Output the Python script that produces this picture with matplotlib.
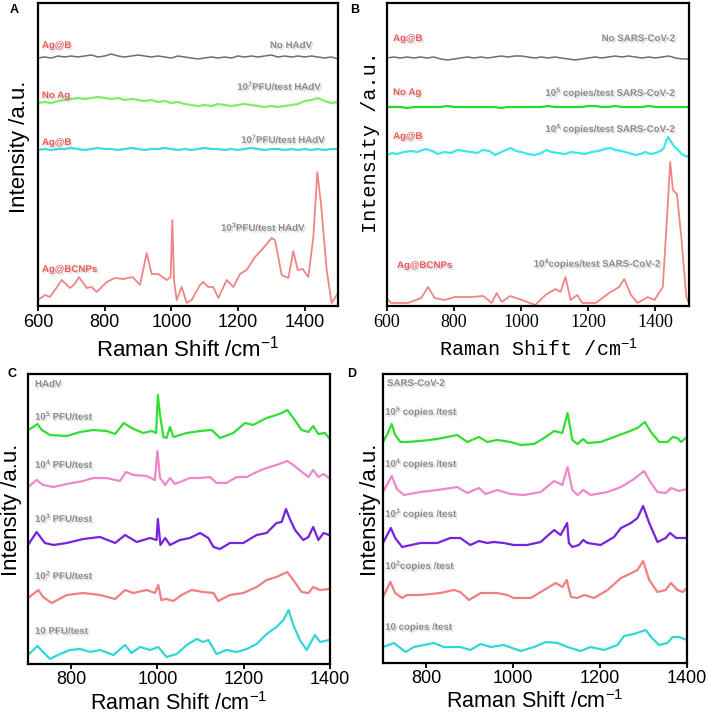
import matplotlib
matplotlib.use("Agg")
import matplotlib.pyplot as plt
import matplotlib.patheffects as pe
import numpy as np

plt.rcParams['mathtext.fontset'] = 'custom'
plt.rcParams['mathtext.rm'] = 'Liberation Sans'
plt.rcParams['mathtext.bf'] = 'Liberation Sans:bold'
plt.rcParams['mathtext.it'] = 'Liberation Sans:italic'

# ---------------- DATA ----------------
x20 = list(range(600, 1501, 20))

# Panel A (HAdV, stacked intensities, a.u.)
a_gray = [248,249,248,250,249,250,249,250,251,249,250,252,250,249,250,251,250,249,250,249,248,250,249,248,247,248,249,248,249,248,250,249,250,249,250,251,249,250,249,250,249,250,249,248,249,247]
a_green = [203,204,203,205,206,207,208,207,208,209,208,207,208,206,207,206,205,206,204,205,203,204,202,201,200,201,200,202,201,200,201,202,201,200,199,200,199,200,201,202,205,206,208,205,203,204]
a_cyan = [156,157,156,157,157,158,157,156,157,158,157,157,156,157,158,157,156,157,157,158,157,156,157,156,157,158,157,157,156,157,156,157,158,157,156,157,157,156,157,156,157,156,157,156,157,157]
a_red_x = [600,621,636,655,671,696,710,723,746,761,776,806,831,856,884,906,926,941,961,986,998,1003,1008,1016,1031,1046,1061,1086,1096,1111,1126,1141,1166,1186,1206,1226,1251,1276,1301,1311,1331,1351,1366,1379,1394,1411,1426,1438,1449,1466,1481,1500]
a_red = [6,11,9,18,26,18,22,29,18,19,14,24,28,27,29,21,53,32,32,26,29,86,26,6,19,3,6,21,24,19,19,8,26,19,32,36,49,58,68,66,31,28,55,36,37,29,69,134,102,36,3,13]

# Panel B (SARS-CoV-2)
b_gray = [248,249,248,249,248,249,248,249,247,246,247,248,249,248,249,248,249,250,249,250,250,249,248,249,248,249,248,247,246,247,248,249,248,249,250,249,250,249,248,249,248,249,250,248,247,247]
b_green = [199,199,199,198,199,199,199,199,199,200,199,199,199,199,199,199,199,198,199,199,199,199,199,199,200,199,199,199,199,199,200,200,199,199,200,199,199,199,199,200,199,199,199,199,199,199]
b_cyan_x = [600,615,630,650,670,690,715,735,752,770,790,810,830,850,870,885,905,922,940,955,968,985,1000,1020,1040,1060,1075,1090,1110,1130,1150,1170,1190,1210,1230,1250,1265,1280,1300,1320,1340,1355,1370,1385,1400,1415,1425,1432,1438,1445,1455,1465,1478,1490,1500]
b_cyan = [151,153,152,154,155,154,157,155,152,154,153,156,155,154,153,156,155,151,154,156,158,155,154,152,151,153,156,154,153,152,154,153,152,154,155,157,158,156,155,153,151,152,154,152,153,155,158,165,169,165,160,157,152,150,149]
b_red_x = [600,612,662,702,722,742,772,802,852,887,912,927,942,967,1002,1042,1072,1102,1117,1132,1147,1167,1182,1222,1262,1292,1307,1327,1347,1377,1397,1422,1437,1444,1452,1464,1477,1492,1500]
b_red = [8,3,3,8,19,8,6,9,9,10,3,13,4,10,6,1,11,17,14,29,6,11,3,3,13,19,27,11,3,9,6,19,103,144,116,112,69,9,3]

# Panel C (HAdV dilution series)
c_x1 = [700,712,722,732,751,790,821,851,882,902,922,940,967,987,997,1001,1006,1014,1021,1029,1037,1068,1099,1126,1145,1176,1203,1222,1253,1276,1288,1301,1315,1334,1350,1361,1373,1388,1398]
c_1e5 = [234,237,240,234,229,228,232,234,233,230,241,236,231,233,231,269,249,227,226,237,227,231,233,234,226,231,241,239,246,249,251,254,246,234,232,238,230,231,226]
c_x2 = [700,720,735,759,790,828,851,882,913,927,944,975,994,1000,1006,1018,1029,1041,1075,1099,1122,1137,1160,1184,1207,1230,1253,1276,1301,1315,1338,1350,1361,1373,1385,1398]
c_1e4 = [177,184,179,177,180,183,186,186,183,192,189,188,184,213,186,179,186,180,186,186,187,181,181,187,187,192,196,199,203,199,191,187,194,187,190,186]
c_x3 = [700,720,739,759,790,828,867,902,925,952,983,998,1001,1007,1018,1029,1052,1075,1099,1118,1130,1145,1168,1199,1230,1253,1276,1288,1298,1307,1319,1338,1350,1361,1373,1385,1398]
c_1e3 = [119,132,121,119,121,125,127,121,129,122,126,124,145,119,126,119,124,126,131,126,117,115,121,121,129,131,141,142,155,145,134,124,127,137,124,131,129]
c_x4 = [700,724,735,755,790,828,867,902,925,944,975,994,1002,1009,1021,1037,1056,1079,1106,1130,1141,1168,1199,1230,1253,1276,1301,1315,1334,1350,1361,1377,1398]
c_1e2 = [66,74,67,61,69,71,69,65,74,71,74,71,79,64,65,63,69,74,72,71,63,69,71,77,84,87,92,84,72,71,77,74,75]
c_x5 = [700,722,735,751,774,797,821,844,867,898,925,940,960,983,1002,1021,1045,1068,1091,1106,1118,1137,1160,1184,1207,1230,1253,1276,1292,1304,1315,1330,1346,1365,1377,1398]
c_1e1 = [9,18,12,5,10,14,15,12,14,9,19,11,17,14,17,7,10,19,25,22,24,10,14,12,15,20,30,37,44,54,39,24,14,29,22,24]

# Panel D (SARS-CoV-2 dilution series)
d_x1 = [700,709,720,728,740,755,786,825,871,894,921,940,963,994,1017,1048,1071,1094,1113,1125,1136,1148,1161,1171,1201,1232,1263,1286,1303,1317,1336,1355,1367,1378,1386,1400]
d_1e5 = [221,228,239,228,221,221,222,224,228,221,226,221,223,221,218,219,225,232,230,250,223,219,224,220,221,226,231,235,241,231,221,221,226,225,221,226]
d_x2 = [700,720,732,748,786,825,871,894,921,936,963,994,1025,1063,1094,1113,1125,1136,1148,1161,1178,1217,1248,1278,1301,1317,1332,1351,1363,1382,1400]
d_1e4 = [171,187,174,168,171,173,176,170,175,169,173,169,168,171,182,178,196,173,168,173,168,171,176,184,192,180,171,170,175,172,174]
d_x3 = [700,718,728,744,786,825,855,878,901,921,940,955,978,1001,1032,1063,1094,1109,1124,1128,1136,1151,1161,1171,1201,1232,1248,1271,1286,1299,1313,1332,1351,1361,1375,1400]
d_1e3 = [120,135,125,116,120,120,125,125,118,122,120,121,120,118,118,121,133,128,140,120,116,118,123,120,118,126,135,140,145,157,140,121,125,130,125,125]
d_x4 = [700,717,728,744,755,786,832,863,878,898,925,963,986,1001,1040,1071,1098,1113,1123,1133,1148,1163,1186,1217,1248,1263,1286,1299,1313,1332,1351,1363,1378,1390,1400]
d_1e2 = [66,81,70,65,68,68,70,73,71,63,70,70,68,65,65,73,80,76,83,66,65,68,65,73,85,88,93,102,83,71,73,80,73,71,75]
d_x5 = [700,725,740,752,771,817,840,878,901,925,948,978,1017,1048,1075,1102,1125,1155,1178,1209,1240,1255,1278,1305,1317,1336,1355,1367,1382,1400]
d_1e1 = [16,20,15,11,16,20,16,16,13,19,16,18,12,16,21,20,16,12,16,13,18,27,29,33,26,18,20,26,26,23]

xticks_ab = [600, 800, 1000, 1200, 1400]
xticks_cd = [800, 1000, 1200, 1400]

# ---------------- FIGURE ----------------
W, H = 708, 714
fig = plt.figure(figsize=(W / 100, H / 100), dpi=100)

def add_ax(l, t, r, b):
    return fig.add_axes([l / W, 1 - b / H, (r - l) / W, (b - t) / H])

axA = add_ax(38, 3, 338, 306)
axB = add_ax(387, 3, 689, 306)
axC = add_ax(28, 374, 330, 664)
axD = add_ax(383, 374, 687, 663)

RED = '#f08585'
GRAY_T = '#8c8c8c'
RED_T = '#e95b5b'
shadow = [pe.withSimplePatchShadow(offset=(1.2, -1.2), shadow_rgbFace='#999999', alpha=0.35)]

def note(ax, x, y, s, color, ha='left'):
    ax.text(x, y, s, transform=ax.transAxes, ha=ha, va='center', color=color,
            fontsize=7, fontweight='bold', family='Liberation Sans', path_effects=shadow)

def style(ax, xlim, ylim, ticks, tickfont, tsize, pad=2.5):
    ax.set_xlim(*xlim)
    ax.set_ylim(*ylim)
    ax.set_yticks([])
    ax.set_xticks(ticks)
    for s in ax.spines.values():
        s.set_linewidth(1.6)
    ax.tick_params(axis='x', direction='out', length=3.5, width=1.3, pad=pad)
    for lab in ax.get_xticklabels():
        lab.set_family(tickfont)
        lab.set_fontsize(tsize)

# Panel A
axA.plot(x20, a_gray, color='#6e6e6e', lw=1.1)
axA.plot(x20, a_green, color='#7ded6a', lw=1.6)
axA.plot(x20, a_cyan, color='#3ddcdc', lw=1.6)
axA.plot(a_red_x, a_red, color=RED, lw=1.3)
style(axA, (600, 1500), (0, 303), xticks_ab, 'Liberation Sans', 13)
axA.set_xlabel('Raman Shift /cm$^{-1}$', family='Liberation Sans', fontsize=16)
axA.set_ylabel('Intensity /a.u.', family='Liberation Sans', fontsize=16)
axA.xaxis.set_label_coords(0.5, -0.142)
axA.xaxis.label.set_va('center')
axA.yaxis.set_label_coords(-0.063, 0.525)
axA.yaxis.label.set_va('center')
note(axA, 0.013, 0.861, 'Ag@B', RED_T)
note(axA, 0.913, 0.861, 'No HAdV', GRAY_T, 'right')
note(axA, 0.013, 0.696, 'No Ag', RED_T)
note(axA, 0.95, 0.729, r'10$^{\mathbf{7}}$PFU/test HAdV', GRAY_T, 'right')
note(axA, 0.013, 0.541, 'Ag@B', RED_T)
note(axA, 0.963, 0.554, r'10$^{\mathbf{7}}$PFU/test HAdV', GRAY_T, 'right')
note(axA, 0.013, 0.122, 'Ag@BCNPs', RED_T)
note(axA, 0.753, 0.264, r'10$^{\mathbf{3}}$PFU/test HAdV', GRAY_T, 'center')

# Panel B
axB.plot(x20, b_gray, color='#6e6e6e', lw=1.1)
axB.plot(x20, b_green, color='#22dd22', lw=1.6)
axB.plot(b_cyan_x, b_cyan, color='#3de6ee', lw=1.6)
axB.plot(b_red_x, b_red, color=RED, lw=1.3)
style(axB, (600, 1500), (0, 303), xticks_ab, 'Liberation Serif', 13)
axB.set_xlabel('Raman Shift /cm$^{-1}$', family='Liberation Mono', fontsize=14.5)
axB.set_ylabel('Intensity /a.u.', family='Liberation Mono', fontsize=14.5)
axB.xaxis.set_label_coords(0.5, -0.142)
axB.xaxis.label.set_va('center')
axB.yaxis.set_label_coords(-0.056, 0.54)
axB.yaxis.label.set_va('center')
note(axB, 0.02, 0.884, 'Ag@B', RED_T)
note(axB, 0.954, 0.884, 'No SARS-CoV-2', GRAY_T, 'right')
note(axB, 0.02, 0.706, 'No Ag', RED_T)
note(axB, 0.96, 0.706, r'10$^{\mathbf{5}}$ copies/test SARS-CoV-2', GRAY_T, 'right')
note(axB, 0.02, 0.561, 'Ag@B', RED_T)
note(axB, 0.96, 0.587, r'10$^{\mathbf{4}}$ copies/test SARS-CoV-2', GRAY_T, 'right')
note(axB, 0.033, 0.135, 'Ag@BCNPs', RED_T)
note(axB, 0.699, 0.142, r'10$^{\mathbf{4}}$copies/test SARS-CoV-2', GRAY_T, 'center')

# Panel C
cols = ['#33dd33', '#ee88cc', '#7722dd', '#ee8080', '#33d6d6']
for xs, ys, c in zip([c_x1, c_x2, c_x3, c_x4, c_x5], [c_1e5, c_1e4, c_1e3, c_1e2, c_1e1], cols):
    axC.plot(xs, ys, color=c, lw=1.6)
style(axC, (700, 1400), (0, 290), xticks_cd, 'Liberation Sans', 13, pad=1.5)
axC.set_xlabel('Raman Shift /cm$^{-1}$', family='Liberation Sans', fontsize=15.5)
axC.set_ylabel('Intensity /a.u.', family='Liberation Sans', fontsize=16)
axC.xaxis.set_label_coords(0.5, -0.135)
axC.xaxis.label.set_va('center')
axC.yaxis.set_label_coords(-0.053, 0.53)
axC.yaxis.label.set_va('center')
note(axC, 0.023, 0.966, 'HAdV', GRAY_T)
note(axC, 0.023, 0.859, r'10$^{\mathbf{5}}$ PFU/test', GRAY_T)
note(axC, 0.023, 0.693, r'10$^{\mathbf{4}}$ PFU/test', GRAY_T)
note(axC, 0.023, 0.507, r'10$^{\mathbf{3}}$ PFU/test', GRAY_T)
note(axC, 0.023, 0.31, r'10$^{\mathbf{2}}$ PFU/test', GRAY_T)
note(axC, 0.023, 0.114, '10 PFU/test', GRAY_T)

# Panel D
for xs, ys, c in zip([d_x1, d_x2, d_x3, d_x4, d_x5], [d_1e5, d_1e4, d_1e3, d_1e2, d_1e1], cols):
    axD.plot(xs, ys, color=c, lw=1.6)
style(axD, (700, 1400), (0, 289), xticks_cd, 'Liberation Sans', 13, pad=1.5)
axD.set_xlabel('Raman Shift /cm$^{-1}$', family='Liberation Sans', fontsize=15.5)
axD.set_ylabel('Intensity /a.u.', family='Liberation Sans', fontsize=16)
axD.xaxis.set_label_coords(0.5, -0.135)
axD.xaxis.label.set_va('center')
axD.yaxis.set_label_coords(-0.04, 0.53)
axD.yaxis.label.set_va('center')
note(axD, 0.013, 0.969, 'SARS-CoV-2', GRAY_T)
note(axD, 0.007, 0.872, r'10$^{\mathbf{5}}$ copies /test', GRAY_T)
note(axD, 0.007, 0.692, r'10$^{\mathbf{4}}$ copies /test', GRAY_T)
note(axD, 0.007, 0.519, r'10$^{\mathbf{3}}$ copies /test', GRAY_T)
note(axD, 0.007, 0.339, r'10$^{\mathbf{2}}$copies /test', GRAY_T)
note(axD, 0.007, 0.125, '10 copies /test', GRAY_T)

# panel letters
for s, px, py in [('A', 10, 10), ('B', 350, 10), ('C', 8, 374), ('D', 347, 374)]:
    fig.text(px / W, 1 - py / H, s, ha='left', va='center', fontsize=9,
             fontweight='bold', family='Liberation Sans')

fig.savefig('out.png', dpi=100)
